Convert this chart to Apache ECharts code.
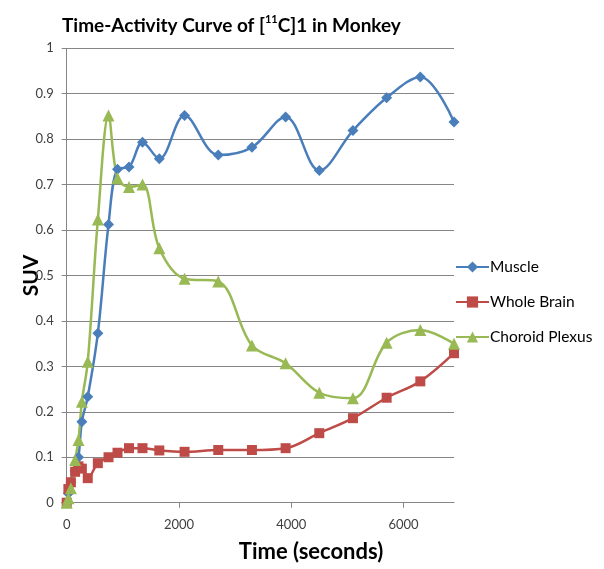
<!DOCTYPE html>
<html>
<head>
<meta charset="utf-8">
<script src="https://cdn.jsdelivr.net/npm/echarts@6/dist/echarts.min.js"></script>
<style>html,body{margin:0;padding:0;background:#fff}#c{width:604px;height:569px}</style>
</head>
<body>
<div id="c"></div>
<script>
const times = [0, 30, 75, 150, 210, 270, 375, 555, 745, 905, 1110, 1350, 1650, 2100, 2700, 3300, 3900, 4500, 5100, 5700, 6300, 6900];
const muscle = [0, 0.02, 0.045, 0.07, 0.10, 0.178, 0.233, 0.373, 0.612, 0.734, 0.739, 0.793, 0.757, 0.852, 0.765, 0.782, 0.849, 0.731, 0.819, 0.891, 0.937, 0.838];
const wholeBrain = [0, 0.03, 0.045, 0.068, 0.08, 0.075, 0.054, 0.087, 0.10, 0.11, 0.12, 0.12, 0.115, 0.112, 0.116, 0.116, 0.12, 0.153, 0.186, 0.231, 0.267, 0.329];
const choroid = [0, 0.01, 0.032, 0.094, 0.138, 0.222, 0.31, 0.623, 0.852, 0.714, 0.695, 0.70, 0.56, 0.493, 0.487, 0.346, 0.307, 0.242, 0.23, 0.352, 0.38, 0.35];
const seriesNames = ['Muscle', 'Whole Brain', 'Choroid Plexus'];
const xTickLabels = ['0', '2000', '4000', '6000'];

const FONT = 'Lato, "Liberation Sans", sans-serif';
const pairs = arr => times.map((t, i) => [t, arr[i]]);
const chart = echarts.init(document.getElementById('c'), null, {renderer: 'canvas'});
const mk = (name, data, color, symbol, size) => ({
  name, type: 'line', data: pairs(data), smooth: 0.35, symbol, symbolSize: size,
  lineStyle: {color, width: 2.5}, itemStyle: {color}, z: 3
});
chart.setOption({
  animation: false,
  backgroundColor: '#ffffff',
  title: [{
    text: 'Time-Activity Curve of [{sup|11}C]1 in Monkey',
    left: 57, top: 9,
    textStyle: {
      fontFamily: FONT, fontSize: 19, fontWeight: 'bold', color: '#000', lineHeight: 24,
      rich: {sup: {fontFamily: FONT, fontSize: 11, fontWeight: 'bold', color: '#000', verticalAlign: 'top', lineHeight: 13}}
    }
  }, {
    text: 'Time (seconds)', left: 306, top: 536, textAlign: 'center',
    textStyle: {fontFamily: FONT, fontSize: 22, fontWeight: 'bold', color: '#000'}
  }],
  legend: {
    orient: 'vertical', left: 455, top: 259, padding: 0, itemWidth: 33, itemHeight: 14, itemGap: 19,
    data: seriesNames,
    textStyle: {fontFamily: FONT, fontSize: 15.5, color: '#000', padding: [0, 0, 0, -4]}
  },
  grid: {left: 66.7, right: 150, top: 48.3, bottom: 66.3, containLabel: false, outerBoundsMode: 'none'},
  xAxis: {
    type: 'value', min: 0, max: 6900, interval: 2000,
    axisLine: {lineStyle: {color: '#868686', width: 1}},
    axisTick: {show: true, length: 5, lineStyle: {color: '#868686'}},
    splitLine: {show: false},
    axisLabel: {
      fontFamily: FONT, fontSize: 13, color: '#404040', margin: 16, showMaxLabel: false,
      formatter: v => xTickLabels[Math.round(v / 2000)] || ''
    }
  },
  yAxis: {
    type: 'value', min: 0, max: 1, interval: 0.1,
    name: 'SUV', nameLocation: 'middle', nameGap: 25, nameRotate: 90, nameMoveOverlap: false,
    nameTextStyle: {fontFamily: FONT, fontSize: 21, fontWeight: 'bold', color: '#000'},
    axisLine: {show: true, lineStyle: {color: '#868686', width: 1}},
    axisTick: {show: true, length: 5, lineStyle: {color: '#868686'}},
    splitLine: {lineStyle: {color: '#868686', width: 1}},
    axisLabel: {fontFamily: FONT, fontSize: 13, color: '#404040', margin: 13,
      formatter: v => String(Math.round(v * 10) / 10)}
  },
  series: [
    mk(seriesNames[0], muscle, '#4A7EBB', 'diamond', 11),
    mk(seriesNames[1], wholeBrain, '#BE4B48', 'rect', 10),
    mk(seriesNames[2], choroid, '#98B954', 'triangle', 12)
  ]
});
</script>
</body>
</html>
